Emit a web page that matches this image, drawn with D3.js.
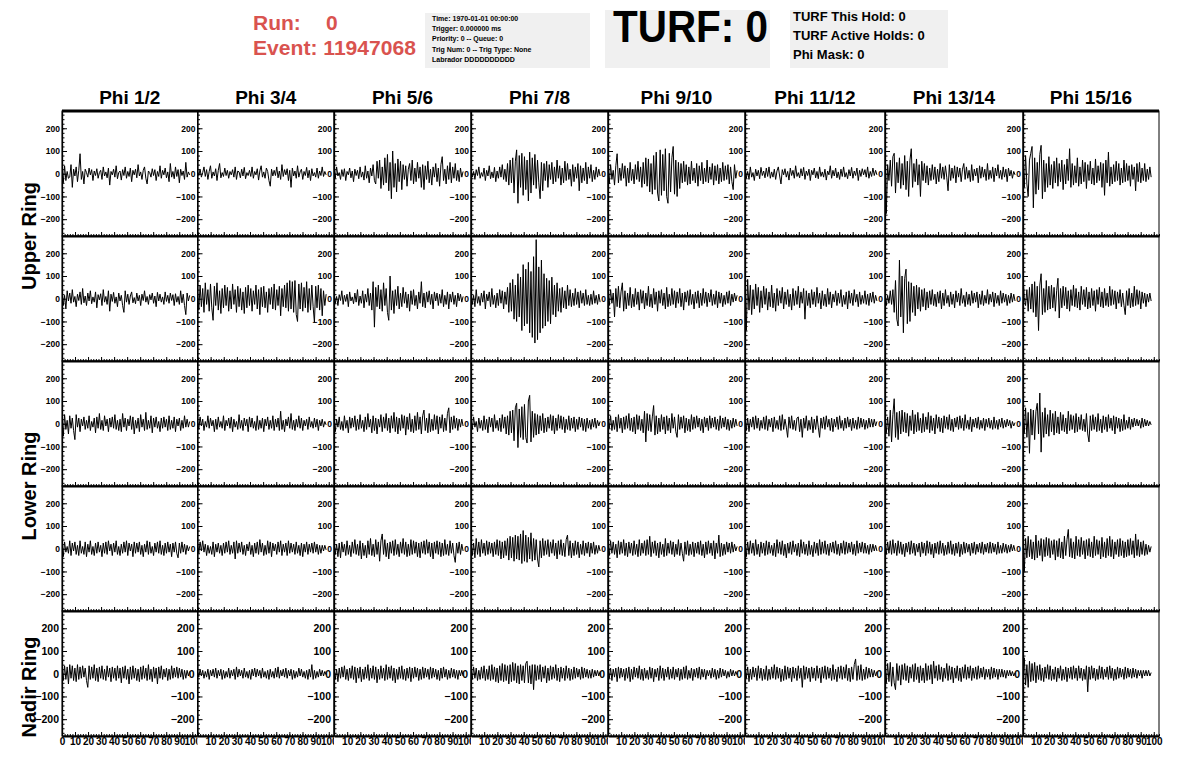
<!DOCTYPE html>
<html><head><meta charset="utf-8">
<script src="https://cdn.jsdelivr.net/npm/d3@7"></script>
<style>
body{margin:0;background:#fff}
svg{display:block}
text{font-family:"Liberation Sans",Arial,Helvetica,sans-serif;font-weight:bold}
</style>
</head><body>
<svg id="c" width="1196" height="772"></svg>
<script>
// ---------------- data ----------------
const phiLabels = ["Phi 1/2","Phi 3/4","Phi 5/6","Phi 7/8","Phi 9/10","Phi 11/12","Phi 13/14","Phi 15/16"];
const ringLabels = ["Upper Ring","Lower Ring","Nadir Ring"];
const yTickValues = [-200,-100,0,100,200];
const xTickValues = [0,10,20,30,40,50,60,70,80,90,100];
const xDomain = [0,104];
const yDomain = [-274,276];
const sampleSpan = 98; // ns covered by each waveform
const runNumber = 0;
const eventNumber = 11947068;
const infoLines = ["Time: 1970-01-01 00:00:00","Trigger: 0.000000 ms","Priority: 0 -- Queue: 0","Trig Num: 0 -- Trig Type: None","Labrador DDDDDDDDDD"];
const turfText = "TURF: 0";
const turfLines = ["TURF This Hold: 0","TURF Active Holds: 0","Phi Mask: 0"];

const waveUpperA = [
[25,-40,35,-30,10,-20,-15,40,-60,20, -10,30,-35,15,88,-25,10,-45,20,5, -15,25,-5,18,-30,12,-8,22,-20,5, 15,-25,30,-10,8,-18,25,-50,10,-5, 20,-15,35,-22,5,12,-28,18,-8,30, -20,10,-12,25,-35,15,-5,20,-18,40, -10,8,-25,15,30,-20,-45,12,5,-15, 22,-8,18,-30,10,-12,35,-20,15,-5, 25,-18,8,-35,45,-15,10,-22,30,-12, 18,-40,20,-8,12,-25,50,-15,8,-5],
[10,-8,20,-15,5,30,-12,18,-25,10, 35,-20,8,-10,22,-30,15,45,-18,5, -12,25,-8,15,-20,10,-5,18,-15,30, -25,12,8,-18,20,-10,28,-22,5,-8, 15,-12,30,-20,10,-5,22,-28,12,35, -15,8,-20,25,10,-30,-55,20,-10,15, -8,30,-18,12,-25,40,-12,18,-5,22, -30,15,-60,25,-10,12,-20,35,-15,8, 20,-25,10,-8,28,-18,15,-30,22,-10, 5,-15,25,-20,12,-8,30,-12,10,-5],
[15,-20,30,-10,5,-25,18,-12,22,-30, 10,-5,25,-18,12,-35,20,-8,15,-22, 30,-15,8,-28,35,-20,12,-40,25,-10, 40,-30,-45,55,-20,60,-65,30,-50,70, -40,85,-75,50,-110,100,-60,45,-80,65, -35,55,-70,40,-25,35,-55,20,45,-30, 60,-45,25,-35,50,-20,30,-60,40,-70, 35,-25,55,-40,20,-50,30,-15,45,-35, 25,-55,40,75,-30,20,-45,35,-25,50, -40,30,-20,45,-30,15,-35,25,-15,10],
[20,-15,10,-25,18,-8,30,-20,5,-12, 25,-30,15,-10,35,-22,8,-18,28,-35, 12,-20,30,-15,40,-25,20,-35,45,-50, 60,-40,70,-85,55,105,-130,80,-60,90, -95,75,-70,60,-120,95,-85,70,-50,85, -65,60,-40,-110,50,-75,45,-30,55,-60, 40,-25,50,-45,30,-35,60,-20,35,-50, 25,-40,55,-30,45,-25,20,-55,40,-35, 30,-20,45,-75,35,-40,25,-30,50,-45, 30,-20,40,-35,15,-25,30,-15,20,-10],
[30,-45,40,-25,15,-50,35,88,-40,25, -30,45,-20,35,-55,25,-40,50,-30,20, -45,40,-25,55,-35,30,-60,50,-45,70, -55,65,-80,45,-90,80,-70,95,-85,-120, 105,-95,85,-75,110,-100,-130,90,-80,70, 120,-90,60,-100,50,-65,45,-40,55,-35, 40,-50,30,-45,55,-30,25,-40,45,-55, 35,-30,50,-45,25,-35,60,-40,30,-25, 45,-50,35,-30,40,-45,25,-35,50,-30, 35,-25,40,-45,30,-35,-70,40,-20,15],
[35,-20,10,-25,30,-15,5,-30,20,-10, 15,-22,28,-8,12,-18,25,-12,30,-20, 8,-15,20,-25,12,30,-10,-45,18,-5, 22,-15,10,-28,25,-8,15,-20,35,-12, 5,-18,22,-10,28,-25,12,-8,20,-30, 15,-5,25,-18,10,-22,30,-12,8,-15, 20,-28,12,-5,35,-20,15,-10,25,-18, 8,-25,20,-12,30,-15,5,-22,18,-10, 28,-20,12,-8,25,-30,15,-12,22,-5, 18,-15,30,-20,10,-12,25,-8,15,-5],
[195,-175,40,-30,60,-55,75,90,-85,50, -40,70,-65,45,-50,80,-70,55,-100,60, 110,-60,45,-35,65,-50,40,-100,55,-30, 45,-40,35,-50,25,-30,40,-25,30,-45, 20,-35,45,-20,30,-25,35,-15,-75,40, -30,25,-20,35,-40,30,-15,25,-35,20, 45,-25,30,-20,15,-35,40,-30,20,-10, 25,-40,35,-20,30,-15,20,-30,45,-25, 15,-20,30,-35,25,-10,40,-20,15,-25, 30,-15,20,-35,25,-10,15,-20,10,-5],
[40,-60,80,-45,-100,60,90,120,-150,70, -90,50,-70,85,125,-110,60,-80,45,-60, 75,-50,40,-65,55,-40,70,-55,45,-35, 60,-70,40,-45,65,-30,110,-60,45,-50, 35,-40,70,-55,30,-45,60,-35,50,-65, 40,-30,55,-45,25,-50,65,-40,35,-30, 50,-60,45,-95,60,-40,95,-55,30,-45, 40,-35,55,-30,45,-50,25,-40,60,-35, 45,-30,35,-55,40,-25,30,-75,45,-35, 50,-40,25,-30,45,-35,20,-25,30,-15]
];
const waveUpperB = [
[50,-30,15,-45,35,-10,25,-20,40,-15, 10,-35,20,-8,30,-25,45,-18,12,-30, 25,-10,35,-22,8,-15,30,-40,18,-5, 22,-30,40,-15,10,-25,35,-55,20,-12, 28,-20,8,-35,25,-10,15,-30,-60,35, -15,20,-25,12,30,-18,5,-22,25,-10, 15,-30,20,-8,35,-15,10,-25,18,-5, 25,-20,12,-35,28,-10,20,-15,8,-25, 30,-12,15,-20,25,-8,18,-30,22,-15, 10,-25,35,-18,20,-30,-70,25,-10,15],
[30,-50,60,-35,45,-60,70,-25,40,-55, 65,-40,-95,55,-30,70,-50,35,-65,45, -40,60,-30,50,-55,35,-45,65,-25,40, -60,55,-35,45,-50,30,-65,50,-40,60, -30,45,-55,35,-25,60,-45,40,-70,50, -35,55,-40,30,-60,45,-25,50,-45,65, -50,40,-30,55,-75,45,-35,60,-40,70, -55,80,-45,75,-60,80,-70,-100,65,-45, 70,-55,50,-40,75,-60,45,-50,60,-35, -105,55,-40,60,-50,45,-75,35,-30,20],
[25,-20,10,-30,18,-8,35,-25,15,-12, 20,-35,30,-10,8,-22,25,-15,40,-30, 12,-20,35,-40,20,-15,45,-30,25,-50, 75,-125,50,-35,60,-45,40,-55,70,-30, 45,-60,-95,100,-50,35,-65,40,-30,55, -45,25,-35,50,-20,30,-40,20,-55,35, -25,40,-30,15,-45,30,-20,75,-35,25, -40,30,-15,35,-25,20,-45,30,-10,25, -30,20,-20,40,-35,15,-25,30,-45,20, -15,30,-25,15,-35,25,-10,20,-15,10],
[30,-25,15,-35,40,-20,10,-30,25,-15, 35,-45,20,-10,30,-35,45,-25,15,-40, 25,-30,40,-20,35,-45,30,-25,50,-60, 70,-55,85,-90,60,-100,110,-80,95,-140, 150,-120,130,-110,160,-150,120,-170,185,-195, 260,-180,140,-150,170,-130,110,-120,90,-100, 80,-110,95,-70,60,-80,70,-55,45,-60, 50,-40,35,-45,60,-30,40,-35,25,-30, 45,-25,30,-40,35,-20,25,-30,40,-25, 15,-30,20,-25,35,-20,15,-25,20,-15],
[15,-30,40,-20,25,-80,45,-35,55,-40, 30,70,-55,35,-45,25,-30,50,-40,20, -35,45,-25,30,-50,40,-20,35,-45,25, -30,55,-35,20,-40,45,-25,30,-55,35, -20,40,-30,25,-45,50,-35,20,-30,45, -25,35,-40,30,-20,45,-35,25,-50,30, -15,35,-30,40,-25,20,-45,30,-20,35, -40,25,-30,45,-20,30,-35,25,-15,40, -30,20,-25,35,-40,30,-20,25,-35,15, -25,30,-20,35,-30,20,-15,25,-10,15],
[100,-140,85,-50,60,-70,40,-45,65,-30, 50,-60,35,-40,55,-25,45,-50,30,-35, 60,-40,25,-55,45,-30,35,-20,50,-45, 30,-25,40,-35,20,-50,45,-30,35,-25, 55,-40,30,-20,45,-90,35,-30,25,-40, 40,-25,30,-35,50,-20,25,-45,35,-30, 20,-35,45,-25,30,-40,20,-15,35,-30, 25,-20,40,-35,15,-25,30,-45,35,-20, 25,-30,40,-15,20,-35,30,-25,15,-20, 35,-25,20,-30,25,-15,30,-20,15,-10],
[20,-30,15,-20,35,-25,40,-60,80,-90, -120,170,-80,100,-150,90,130,-110,75,-100, 70,-60,55,-75,60,-45,50,-55,40,-35, 45,-50,30,-40,35,-25,40,-30,20,-35, 30,-20,35,-45,25,-30,40,-20,15,-35, 30,-25,20,-40,35,-15,25,-30,45,-20, 15,-35,30,-25,20,-30,35,-20,25,-15, 30,-40,20,-25,35,-30,15,-20,40,-25, 20,-15,30,-35,25,-20,15,-30,35,-20, 25,-15,20,-30,15,-20,25,-15,20,-10],
[100,5,-30,40,-55,50,-45,65,-60,75, -80,55,-140,60,110,-70,45,-60,80,-50, 55,-45,60,-40,50,-55,35,90,-85,45, -40,55,-30,50,-45,35,-55,40,-30,60, -35,45,-40,30,-50,55,-25,40,-35,50, -45,30,-40,45,-30,35,-55,40,-25,50, -35,30,-40,45,-30,25,-35,55,-30,40, -25,35,-45,30,-20,40,-35,25,-30,-70, 35,-30,45,-40,25,-35,55,-30,40,-25, 35,-45,30,-20,25,-35,20,-15,25,-10]
];
const waveLowerA = [
[30,-55,40,-25,15,-45,35,-20,25,-30, -70,40,-15,25,-35,20,-10,30,-25,15, -20,35,-30,10,-15,25,-40,30,-20,45, -25,15,-30,35,-10,20,-35,25,-15,30, -20,40,-25,15,-30,20,-35,45,-15,25, -30,20,-10,35,-25,30,-45,15,-20,25, -35,40,-15,20,-30,50,-25,15,-20,35, -40,25,-15,30,-20,10,-35,25,-20,30, -15,20,-30,35,-25,15,-20,30,-35,20, -10,25,-30,15,-20,35,-15,20,-15,10],
[15,-25,30,-10,20,-30,10,-15,35,-20, 25,-10,15,-35,20,-25,30,-15,10,-20, 35,-30,15,-10,25,-20,30,-35,20,-15, 10,-25,40,-20,15,-30,25,-10,20,-35, 30,-15,25,-20,10,-30,35,-25,15,-20, 25,-35,20,-10,30,-25,15,-20,35,-30, 20,-15,25,-30,55,-25,15,-35,20,-10, 30,-20,45,-25,15,-30,20,-15,35,-20, 25,-30,15,-10,20,-25,30,-15,10,-20, 25,-15,20,-30,15,-10,20,-15,10,-5],
[25,-35,20,-15,30,-25,10,-30,35,-20, 15,-40,30,-20,25,-15,35,-30,20,-25, 40,-20,15,-35,30,-25,45,-15,20,-40, 35,-30,25,-45,20,-15,40,-35,30,-20, 45,-30,25,-40,35,-20,50,-35,30,-45, 25,-30,40,-20,35,-50,30,-25,45,-35, 20,-40,35,-30,50,-25,30,-45,35,60, -30,25,-40,45,-35,20,-30,40,-25,35, -45,30,-20,40,-35,25,-30,45,70,-40, 30,-25,35,-20,25,-30,20,-15,20,-10],
[20,-25,30,-15,10,-35,25,-20,15,-30, 35,-25,20,-40,30,-15,25,-35,40,-20, 15,-30,25,-35,40,-20,30,-45,35,-50, 55,-40,60,-75,70,90,-105,65,-60,75, -70,85,-60,-85,100,125,-80,55,-60,45, -50,40,-45,35,-30,45,-40,25,-35,30, -20,40,-30,35,-45,25,-30,40,-20,35, -25,30,-40,20,-25,35,-30,25,-20,30, -35,20,-25,30,-15,25,-30,20,-35,25, -20,15,-25,20,-15,25,-20,15,-10,10],
[25,-20,35,-30,15,-25,30,-35,40,-20, 25,-40,30,-25,35,-20,45,-30,25,-35, 30,-45,40,-25,35,-30,20,-40,55,-80, 45,-30,40,-35,30,80,-50,35,-45,25, -35,40,-25,30,-45,35,-30,25,-40,45, -20,30,-35,-60,40,-25,30,-20,35,-40, 25,-30,20,-35,40,-25,30,-20,35,-15, 25,-30,20,-40,30,-15,25,-30,35,-20, 25,-15,30,-25,20,-30,35,-20,25,-15, 30,-25,20,-30,15,-20,25,-15,20,-10],
[40,-30,25,-35,20,-15,30,-25,35,-20, 25,-30,15,-20,30,-25,35,-30,20,-15, 25,-35,30,-20,15,-25,35,-30,40,-25, 20,-15,-60,30,-20,35,-25,15,-30,25, 30,-35,20,-60,25,-20,35,-30,15,-25, 30,-40,20,-25,35,-15,-60,25,-20,30, -25,35,-15,20,-30,25,-35,20,-15,30, -25,35,-20,15,-30,25,-20,30,-15,20, -30,25,-20,15,-25,30,-20,25,-15,20, -25,15,-20,25,-15,20,-15,20,-10,10],
[15,-40,30,-55,60,-80,40,110,-60,50, -70,55,-45,60,-35,50,-40,45,-55,35, -30,60,-45,40,-35,50,-30,25,-40,45, -35,30,-25,50,-40,35,-30,25,-45,40, -20,30,-35,25,-40,35,-20,30,-25,40, -30,20,-35,25,-15,30,-25,35,-20,25, -30,40,-20,15,-25,30,-35,20,-15,25, -20,30,-25,15,-20,25,-30,20,-15,25, -20,15,-25,30,-20,15,-25,20,-15,25, -20,15,-15,20,-10,15,-20,10,-10,5],
[30,-40,70,-60,50,-130,65,-50,60,-70, 55,90,-45,135,-125,50,-60,70,-45,40, -55,60,-35,45,-50,55,-40,30,-45,50, -30,40,-35,25,-45,55,-30,40,-25,35, -40,45,-35,30,-25,40,-30,20,-35,45, -45,-80,35,-30,40,-25,30,-35,45,-30, 20,-40,35,-25,30,-35,40,-20,25,-30, 35,-45,30,-20,25,-35,20,-30,40,-25, 15,-20,30,-25,20,-15,25,-10,20,-10, 15,-20,25,-15,20,-10,15,-10,10,-5]
];
const waveLowerB = [
[20,-35,30,-15,10,-20,35,-30,25,-10, 30,-25,15,-30,35,-20,10,-25,30,-35, 20,-15,35,-25,10,-30,25,-20,30,-15, 15,-35,25,-20,30,-25,35,-10,20,-30, 25,-15,35,-25,10,-30,20,-20,30,-15, 35,-30,25,-10,20,-35,30,-20,25,-15, 30,-25,15,-35,20,-15,35,-25,30,-20, 10,-30,25,-15,30,-20,35,-25,15,-30, 25,-20,30,-15,20,-35,25,-15,30,-20, -40,25,-20,30,-15,20,-25,15,-10,10],
[25,-20,30,-10,35,-15,20,-30,15,-20, 10,-25,30,-35,20,-15,25,-20,15,-30, 25,-20,30,-15,35,-25,15,-20,30,-45, 35,-20,25,-15,30,-25,15,-30,20,-10, 30,-25,15,-35,25,-20,30,-25,40,-15, 25,-30,15,-25,35,-20,30,-35,25,-10, 20,-25,30,-15,35,-30,20,-15,25,-30, 35,-20,25,-15,20,-25,30,-20,15,-30, 25,-35,20,-15,30,-25,20,-15,25,-20, 30,-15,20,-25,15,-20,15,-10,15,-5],
[30,-25,20,-35,25,-40,30,-15,20,-30, 35,-25,15,-35,30,-20,40,-25,20,-30, 35,-45,25,-30,15,-40,35,-25,45,-30, 20,-35,40,-25,30,-55,35,65,-25,40, -35,25,-45,30,-20,35,-30,40,-25,20, -35,30,-20,45,-25,30,-35,20,-30,40, -25,35,-20,30,-35,25,-40,30,-20,35, -25,40,-20,30,-35,25,-45,30,-20,35, -25,30,-35,25,-30,40,-25,20,-30,35, -20,25,-30,-60,25,-20,30,-25,20,-10],
[35,-30,25,-40,45,-25,30,-35,40,-20, 25,-30,35,-25,30,-20,25,-35,30,-25, 40,-30,35,-45,30,-40,35,-30,45,-50, 55,-40,50,-55,60,-45,55,-50,65,-65, 80,-55,60,-60,50,-45,70,-55,45,-50, 40,-45,-80,35,-40,45,-30,35,-25,40, -35,30,-20,40,-30,25,-45,35,-25,40, -30,25,-35,40,60,-30,35,-40,25,-30, 35,-25,30,-40,20,-25,35,-30,25,-20, 30,-35,25,-20,30,-25,15,-20,15,-10],
[25,-30,35,-20,30,-25,20,-40,35,-25, 30,-20,40,-30,25,-35,30,-20,25,-30, 35,-25,20,-35,40,-30,25,-20,35,-30, 40,-25,55,-35,30,-20,35,-30,25,-40, 30,-25,20,-35,45,-30,25,-20,35,-25, 30,-35,20,-25,40,-30,25,-20,-55,30, -25,35,-30,20,-25,30,-35,25,-20,30, -25,35,-30,20,-40,30,-25,35,-20,25, -30,35,-45,25,-20,60,-35,25,-30,20, -25,30,-15,25,-20,30,-15,20,-10,10],
[40,-35,30,-25,35,-20,25,-30,40,-25, 20,-35,30,-20,25,-30,35,-25,30,-20, 15,-30,25,-35,40,-20,30,-25,35,-30, 20,-40,25,-20,30,-25,35,-15,20,-30, 25,-35,40,-20,30,-25,20,-30,35,-25, 15,-35,30,-20,25,-30,40,-25,30,-20, 35,-25,20,-30,25,-15,30,-20,35,-25, 20,-30,25,-20,35,-25,30,-20,25,-15, 30,-25,20,-30,35,-20,25,-15,30,-20, 25,-20,15,-25,20,-15,20,-10,15,-10],
[20,-25,30,-20,35,-25,40,-20,25,-30, 35,-20,30,-25,20,-35,25,-15,30,-25, 35,-20,25,-30,20,-15,25,-35,30,-20, 25,-30,35,-20,30,-25,20,-40,25,-20, 30,-25,35,-20,25,-30,15,-25,30,-20, 35,-25,20,-30,25,-20,30,-35,20,-25, 30,-20,25,-15,20,-30,25,-20,30,-25, 20,-15,25,-20,30,-25,20,-15,25,-20, 30,-20,25,-15,20,-25,30,-20,15,-20, 25,-15,20,-20,15,-15,20,-10,15,-10],
[60,-100,45,-40,55,-35,40,-45,30,-50, 60,-40,35,-30,45,-55,40,-35,50,-30, 45,-40,35,-25,40,-50,35,-35,45,-40, 30,-45,55,-30,40,85,-35,45,-40,30, -45,55,-30,40,-35,50,-25,35,-45,40, -30,45,-35,30,-40,55,-30,40,-25,35, -45,50,-35,30,-40,45,-30,55,-35,40, -45,30,-25,40,-35,45,-30,35,-40,30, -35,40,-30,45,-25,35,-40,65,-30,40, -35,30,-25,35,-30,20,-25,15,-15,10]
];
const waveNadir = [
[20,-30,35,-25,30,-45,40,-20,35,-30, 25,-35,40,-25,30,-20,35,-15,25,-30, -60,35,-25,30,-20,40,-30,25,-35,30, -20,35,-25,20,-30,35,-15,25,-35,30, -20,25,-30,35,-20,25,-40,30,-20,35, -25,20,-45,30,-25,35,-20,25,-30,20, -35,30,-25,35,-20,25,-30,40,-25,20, -35,30,-20,25,-45,30,-20,35,-25,20, -15,25,-30,20,-25,35,-20,25,-15,30, -20,25,-15,20,-25,15,-20,15,-10,10],
[10,-15,20,-10,15,-20,10,-15,20,-25, 15,-10,20,-15,25,-20,15,-10,20,-25, 15,-20,10,-15,25,-20,15,-10,20,-25, 30,-15,20,-10,15,-20,25,-15,10,-20, 15,-25,20,-10,25,-15,20,-10,15,-20, 25,-15,10,-20,15,-25,20,-15,10,-20, 25,-15,30,-20,15,-10,20,-15,25,-20, 15,-10,20,-25,15,-20,10,-15,25,-10, 20,-15,10,-20,15,-25,20,-15,40,-25, 15,-20,10,-15,20,-10,15,-10,10,-5],
[30,-25,20,-35,25,-20,30,-15,35,-25, 20,-30,25,-20,35,-25,30,-40,25,-20, 30,-35,20,-25,30,-20,40,-30,25,-20, 35,-25,30,-40,20,-25,35,-20,25,-30, 40,-25,30,-20,35,-30,25,-40,20,-25, 30,-20,35,-25,20,-30,25,-20,30,-35, 25,-20,30,-15,25,-30,20,-25,30,-20, 25,-15,20,-25,30,-20,25,-15,20,-25, 15,-30,25,-20,30,-15,20,-25,15,-20, 25,-15,20,-20,15,-25,15,-10,15,-10],
[20,-25,30,-20,25,-30,15,-25,30,-20, 35,-30,20,-25,35,-30,40,-25,30,-35, 25,-40,35,-30,45,-35,40,-30,35,-45, 40,-35,50,-30,45,-40,35,-45,40,-30, 35,-40,45,55,-40,35,-45,40,-70,40, -30,35,-25,40,-35,30,-20,35,-40,25, -30,35,-25,30,-20,40,-30,25,-35,30, -20,25,-30,35,-20,25,-30,20,-25,30, -20,25,-15,20,-25,30,-20,25,-15,20, -20,15,-20,20,-15,15,-10,15,-10,10],
[15,-20,25,-30,20,-15,25,-35,30,-20, 25,-15,20,-30,25,-20,30,-35,20,-25, 30,-15,25,-20,35,-25,20,-30,25,-20, 15,-25,30,-20,25,-35,20,-15,25,-30, 35,-20,25,-30,20,-15,30,-25,20,-20, 30,-25,20,-15,25,-30,20,-25,30,-20, 35,-25,15,-20,25,-30,20,-15,25,-20, 30,-25,20,-15,20,-25,15,-10,15,-20, 25,-15,20,-25,15,-20,25,-15,20,-10, 15,-20,10,-15,20,-10,15,-10,10,-5],
[25,-20,30,-35,20,-25,30,-15,25,-30, 35,-20,25,-30,20,-25,35,-30,20,-25, 30,-20,40,-25,30,-20,25,-35,20,-30, 35,-25,30,-20,25,-35,30,-20,25,-30, 35,-20,25,-60,35,-25,30,-20,25,-35, 30,-20,25,-30,35,-20,25,-40,30,-20, 35,-25,30,-20,25,-30,40,-25,20,-35, 30,-20,35,-25,30,-20,40,-30,25,-35, 30,-25,40,65,-30,35,-25,40,-30,20, -25,30,-20,25,-15,20,-15,15,-10,10],
[30,-40,45,-35,50,-55,30,-40,-70,45, -30,35,-50,40,-25,45,-30,35,-40,30, -20,40,-35,45,-25,30,-40,35,-30,25, -40,45,-30,35,-25,40,-45,55,-20,35, -30,40,-25,30,-35,25,-20,45,-30,35, -25,30,-40,25,-20,35,-30,25,-35,30, -20,40,-25,30,-20,35,-30,25,-20,30, -25,35,-20,25,-15,30,-25,20,-15,20, -25,30,-20,25,-15,20,-25,20,-15,20, -15,15,-20,15,-10,15,-10,10,-10,5],
[40,70,-50,40,-60,55,-35,45,-30,50, -40,35,-25,40,-30,25,-35,30,-20,40, -25,35,-30,20,-25,30,-35,25,-20,35, -30,20,-25,30,-35,25,-20,30,-25,35, -20,25,-30,35,-20,25,-30,20,-25,35, -80,30,-25,35,-20,25,-30,20,-25,35, -20,30,-25,20,-15,30,-25,35,-20,25, -30,20,-25,30,-20,25,-15,20,-25,30, -20,25,-15,20,-20,25,-15,20,-20,15, -10,15,-20,15,-10,15,-10,15,-10,5]
];

// ---------------- layout ----------------
const svg = d3.select("#c");
const W = 1196, H = 772;
const colEdges = [62, 197.5, 334, 471, 608, 745, 885, 1023, 1159];
const colX = d3.scaleLinear().domain(d3.range(9)).range(colEdges);
const rowY = d3.scaleLinear().domain([0,5]).range([111,736]);
const rows = [waveUpperA, waveUpperB, waveLowerA, waveLowerB, waveNadir];
const defs = svg.append("defs");
const redColor = "#d9534f";

svg.append("rect").attr("width",W).attr("height",H).attr("fill","#fff");

// ---------------- header ----------------
svg.append("text").attr("x",253).attr("y",30).attr("font-size",21).attr("fill",redColor).text("Run:");
svg.append("text").attr("x",326).attr("y",30).attr("font-size",21).attr("fill",redColor).text(runNumber);
svg.append("text").attr("x",253).attr("y",55).attr("font-size",21).attr("fill",redColor)
  .attr("textLength",163).attr("lengthAdjust","spacingAndGlyphs").text("Event: " + eventNumber);

svg.append("rect").attr("x",425).attr("y",13).attr("width",165).attr("height",55).attr("fill","#f0f0f0");
svg.selectAll(".info").data(infoLines).join("text").attr("class","info")
  .attr("x",432).attr("y",(d,i)=>20.5+i*10.4).attr("font-size",7).attr("fill","#000").text(d=>d);

svg.append("rect").attr("x",605).attr("y",10).attr("width",165).attr("height",58).attr("fill","#f0f0f0");
svg.append("text").attr("x",613).attr("y",42).attr("font-size",44).attr("fill","#000")
  .attr("textLength",155).attr("lengthAdjust","spacingAndGlyphs").text(turfText);

svg.append("rect").attr("x",790).attr("y",10).attr("width",158).attr("height",58).attr("fill","#f0f0f0");
svg.selectAll(".turf").data(turfLines).join("text").attr("class","turf")
  .attr("x",793).attr("y",(d,i)=>21+i*19).attr("font-size",13).attr("fill","#000").text(d=>d);

// column titles
svg.selectAll(".phi").data(phiLabels).join("text").attr("class","phi")
  .attr("x",(d,i)=>(colX(i)+colX(i+1))/2).attr("y",104).attr("text-anchor","middle")
  .attr("font-size",19).attr("fill","#000").text(d=>d);

// ring labels
const ringCenters = [rowY(1), rowY(3), 687];
svg.selectAll(".ring").data(ringLabels).join("text").attr("class","ring")
  .attr("transform",(d,i)=>`translate(36,${ringCenters[i]}) rotate(-90)`)
  .attr("text-anchor","middle").attr("font-size",20).attr("fill","#000").text(d=>d);

// ---------------- panels ----------------
const yMinor = d3.range(-260, 261, 20);
const xMinor = d3.range(0, 104.01, 2);

rows.forEach((row, r) => {
  row.forEach((vals, c) => {
    const x0 = colX(c), x1 = colX(c+1), y0 = rowY(r), y1 = rowY(r+1);
    const x = d3.scaleLinear().domain(xDomain).range([x0, x1]);
    const y = d3.scaleLinear().domain(yDomain).range([y1, y0]);
    const id = `clip-${r}-${c}`;
    defs.append("clipPath").attr("id", id).append("rect")
      .attr("x", x0).attr("y", y0).attr("width", x1 - x0).attr("height", y1 - y0);
    const g = svg.append("g");
    const step = sampleSpan / (vals.length - 1);
    g.append("path").datum(vals).attr("clip-path", `url(#${id})`)
      .attr("fill","none").attr("stroke","#000").attr("stroke-width",1)
      .attr("d", d3.line().x((d,i)=>x(i*step)).y(d=>y(d)));

    // frame
    g.append("rect").attr("x",x0).attr("y",y0).attr("width",x1-x0).attr("height",y1-y0)
      .attr("fill","none").attr("stroke","#000").attr("stroke-width",1);

    // y axis: minor ticks
    g.append("g").attr("transform",`translate(${x0},0)`)
      .call(d3.axisLeft(y).tickValues(yMinor).tickSizeInner(-2.5).tickSizeOuter(0).tickFormat(""))
      .call(s=>s.select(".domain").remove());
    // y axis: major ticks + labels
    const ya = g.append("g").attr("transform",`translate(${x0},0)`)
      .call(d3.axisLeft(y).tickValues(yTickValues).tickSizeInner(-5).tickSizeOuter(0).tickPadding(r===4?3:2));
    ya.attr("font-family",null).attr("font-size",null);
    ya.select(".domain").attr("stroke-width",1.3);
    ya.selectAll("text").attr("font-size", r===4 ? 10.5 : 8.5).attr("fill","#000");

    // x axis
    const xa = g.append("g").attr("transform",`translate(0,${y1})`);
    xa.append("g").call(d3.axisBottom(x).tickValues(xMinor).tickSizeInner(-2).tickSizeOuter(0).tickFormat(""))
      .call(s=>s.select(".domain").remove());
    const xmaj = xa.append("g").call(d3.axisBottom(x).tickValues(xTickValues).tickSizeInner(-4).tickSizeOuter(0).tickPadding(2)
      .tickFormat(d => (r < 4 || (d === 0 && c > 0)) ? "" : d));
    xmaj.attr("font-family",null).attr("font-size",null);
    xmaj.select(".domain").attr("stroke-width",1.8);
    xmaj.selectAll("text").attr("font-size",10).attr("fill","#000");
    if (r === 4 && c < 7) {
      const lid = `lclip-${c}`;
      defs.append("clipPath").attr("id", lid).append("rect")
        .attr("x", x0 - 30).attr("y", -10).attr("width", x1 - x0 + 30).attr("height", 40);
      xmaj.attr("clip-path", `url(#${lid})`);
    }
  });
});

// thick top frame line
svg.append("line").attr("x1",colX(0)).attr("x2",colX(8)).attr("y1",rowY(0)).attr("y2",rowY(0))
  .attr("stroke","#000").attr("stroke-width",3);
</script>
</body></html>
